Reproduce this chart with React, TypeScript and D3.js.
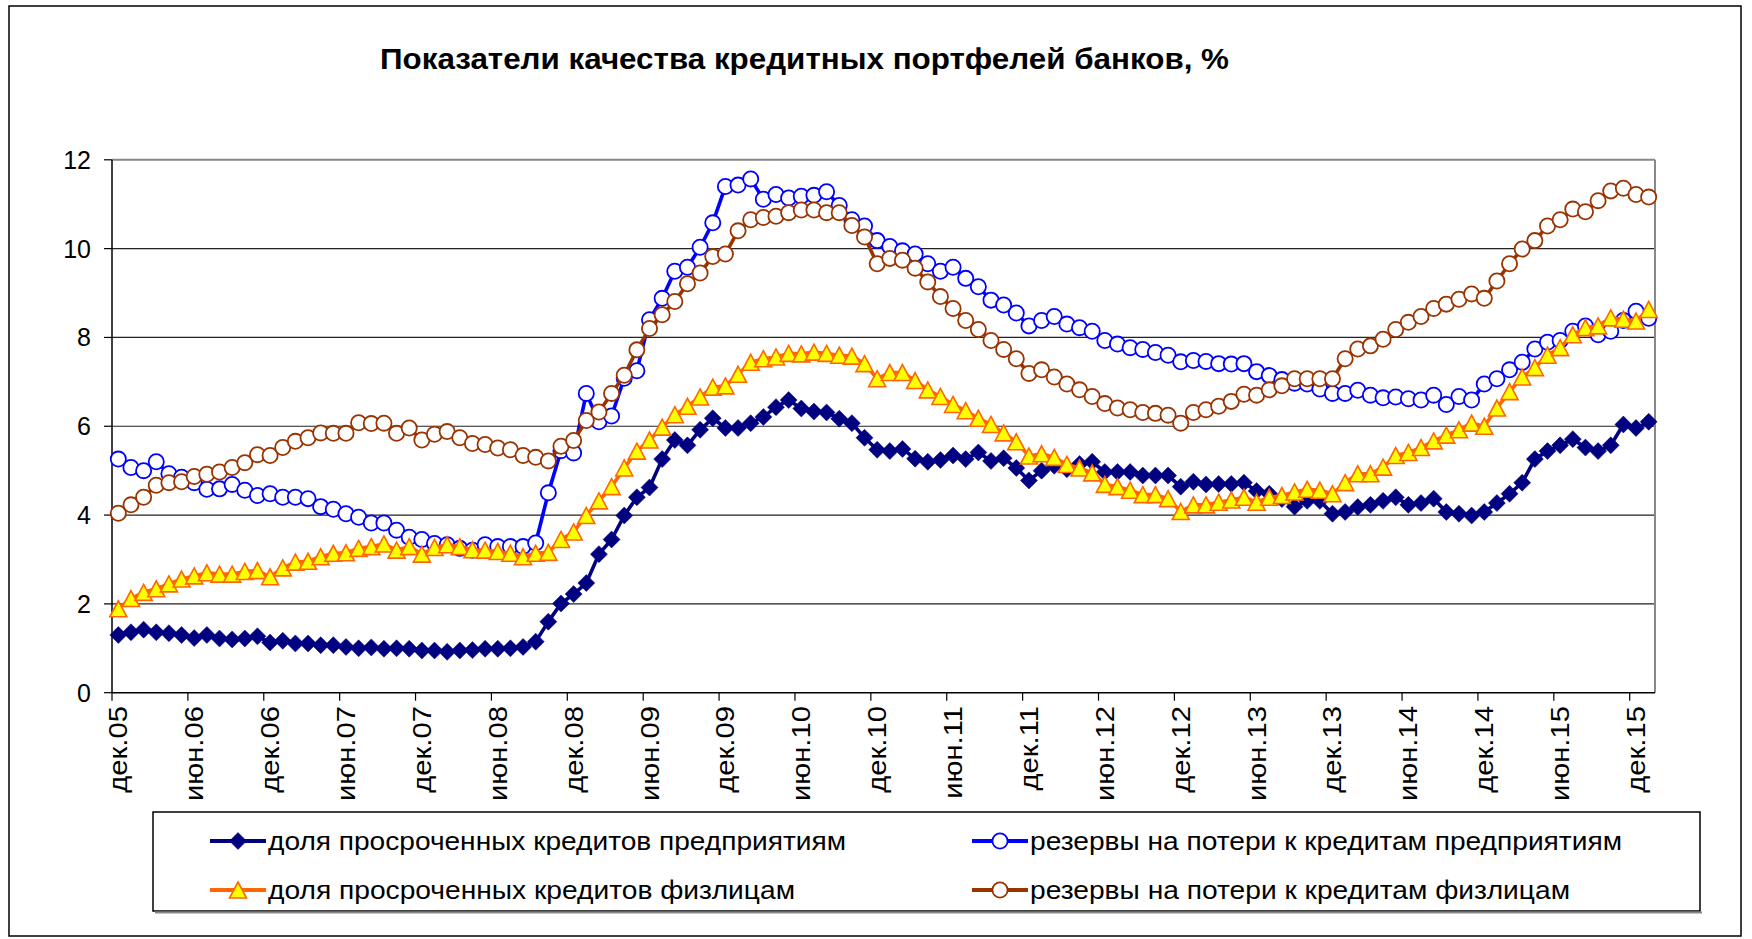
import * as d3 from "d3";

// months used to build category names (dec.05 ... jan.16)
const MONTHS = ["янв", "фев", "мар", "апр", "май", "июн", "июл", "авг", "сен", "окт", "ноя", "дек"];

// доля просроченных кредитов предприятиям
const overdueCorp = [
  1.30, 1.36, 1.42, 1.36, 1.34, 1.30, 1.23, 1.30, 1.22, 1.20, 1.22, 1.27, 1.13, 1.17, 1.11, 1.11, 1.07, 1.07, 1.03, 1.00, 1.02,
  0.99, 1.00, 0.99, 0.95, 0.95, 0.92, 0.95, 0.96, 0.99, 0.99, 1.00, 1.03, 1.15, 1.60, 2.01, 2.22, 2.47, 3.12, 3.45, 3.99, 4.40,
  4.62, 5.26, 5.69, 5.57, 5.92, 6.18, 5.96, 5.96, 6.07, 6.21, 6.43, 6.59, 6.40, 6.33, 6.31, 6.17, 6.07, 5.74, 5.47, 5.44, 5.49, 5.27,
  5.20, 5.24, 5.34, 5.26, 5.41, 5.22, 5.28, 5.06, 4.78, 5.00, 5.11, 5.03, 5.15, 5.20, 4.97, 4.97, 4.97, 4.89, 4.89, 4.89, 4.64,
  4.75, 4.69, 4.70, 4.70, 4.73, 4.54, 4.48, 4.36, 4.19, 4.32, 4.32, 4.03, 4.07, 4.18, 4.23, 4.32, 4.40, 4.23, 4.27, 4.37, 4.07,
  4.03, 3.99, 4.07, 4.27, 4.48, 4.73, 5.26, 5.44, 5.57, 5.71, 5.52, 5.44, 5.57, 6.04, 5.96, 6.10,
];

// резервы на потери к кредитам предприятиям
const reservesCorp = [
  5.26, 5.07, 5.00, 5.20, 4.93, 4.85, 4.73, 4.58, 4.59, 4.69, 4.56, 4.44, 4.48, 4.40, 4.40, 4.37, 4.19, 4.13, 4.03, 3.95, 3.82,
  3.82, 3.66, 3.50, 3.45, 3.36, 3.33, 3.25, 3.21, 3.33, 3.29, 3.29, 3.29, 3.37, 4.50, 5.45, 5.40, 6.74, 6.10, 6.23, 7.08, 7.25,
  8.40, 8.88, 9.49, 9.58, 10.03, 10.58, 11.40, 11.43, 11.57, 11.11, 11.22, 11.14, 11.18, 11.20, 11.28, 10.97, 10.65, 10.51, 10.18, 10.05, 9.95, 9.88,
  9.66, 9.49, 9.58, 9.33, 9.14, 8.84, 8.73, 8.55, 8.26, 8.38, 8.47, 8.30, 8.22, 8.14, 7.93, 7.85, 7.77, 7.73, 7.66, 7.60, 7.45,
  7.48, 7.46, 7.41, 7.40, 7.41, 7.23, 7.14, 7.05, 6.97, 6.95, 6.84, 6.74, 6.74, 6.81, 6.70, 6.64, 6.66, 6.62, 6.59, 6.70, 6.49,
  6.67, 6.59, 6.95, 7.07, 7.27, 7.44, 7.74, 7.89, 7.93, 8.14, 8.26, 8.06, 8.14, 8.38, 8.59, 8.43,
];

// доля просроченных кредитов физлицам
const overdueRetail = [
  1.89, 2.12, 2.26, 2.34, 2.45, 2.56, 2.63, 2.70, 2.67, 2.67, 2.73, 2.75, 2.61, 2.81, 2.94, 2.96, 3.06, 3.14, 3.15, 3.25, 3.29,
  3.35, 3.21, 3.29, 3.12, 3.27, 3.33, 3.29, 3.22, 3.21, 3.18, 3.14, 3.06, 3.14, 3.16, 3.45, 3.62, 3.99, 4.32, 4.64, 5.06, 5.44,
  5.69, 5.98, 6.26, 6.45, 6.66, 6.88, 6.91, 7.17, 7.44, 7.52, 7.56, 7.64, 7.63, 7.67, 7.64, 7.60, 7.58, 7.41, 7.07, 7.21, 7.21, 7.03,
  6.82, 6.67, 6.49, 6.35, 6.18, 6.04, 5.85, 5.65, 5.33, 5.38, 5.30, 5.14, 5.06, 4.95, 4.69, 4.64, 4.56, 4.46, 4.46, 4.37, 4.08,
  4.23, 4.23, 4.29, 4.34, 4.40, 4.29, 4.40, 4.44, 4.52, 4.58, 4.56, 4.48, 4.73, 4.93, 4.93, 5.08, 5.34, 5.41, 5.52, 5.67, 5.80,
  5.92, 6.07, 6.00, 6.41, 6.78, 7.11, 7.32, 7.60, 7.77, 8.06, 8.22, 8.26, 8.44, 8.41, 8.37, 8.63,
];

// резервы на потери к кредитам физлицам
const reservesRetail = [
  4.04, 4.23, 4.40, 4.67, 4.73, 4.75, 4.87, 4.92, 4.97, 5.07, 5.18, 5.36, 5.34, 5.52, 5.66, 5.74, 5.85, 5.84, 5.84, 6.08, 6.06,
  6.07, 5.84, 5.96, 5.69, 5.82, 5.88, 5.74, 5.61, 5.59, 5.51, 5.47, 5.34, 5.30, 5.22, 5.55, 5.68, 6.13, 6.32, 6.74, 7.15, 7.72,
  8.20, 8.51, 8.81, 9.21, 9.45, 9.82, 9.88, 10.40, 10.65, 10.70, 10.73, 10.81, 10.87, 10.87, 10.81, 10.81, 10.52, 10.26, 9.66, 9.78, 9.74, 9.56,
  9.25, 8.92, 8.65, 8.38, 8.18, 7.93, 7.73, 7.52, 7.19, 7.27, 7.11, 6.95, 6.82, 6.67, 6.51, 6.41, 6.37, 6.31, 6.29, 6.25, 6.07,
  6.31, 6.37, 6.45, 6.56, 6.72, 6.70, 6.82, 6.91, 7.07, 7.07, 7.07, 7.07, 7.52, 7.74, 7.81, 7.96, 8.18, 8.34, 8.47, 8.65, 8.75,
  8.86, 8.98, 8.88, 9.27, 9.66, 9.99, 10.18, 10.51, 10.65, 10.89, 10.83, 11.08, 11.30, 11.36, 11.22, 11.16,
];

const seriesNames = [
  "доля просроченных кредитов предприятиям",
  "резервы на потери к кредитам предприятиям",
  "доля просроченных кредитов физлицам",
  "резервы на потери к кредитам физлицам",
];

const yTicks = [0, 2, 4, 6, 8, 10, 12];

const categories = overdueCorp.map((_, k) => {
  const m = (11 + k) % 12;
  const yr = 5 + Math.floor((11 + k) / 12);
  return `${MONTHS[m]}.${String(yr).padStart(2, "0")}`;
});

const W = 1752;
const H = 939;
const FONT = "'Liberation Sans', Arial, sans-serif";
const plot = { left: 112, right: 1655, top: 159.8, bottom: 692.7 };

type Marker = "diamond" | "circle" | "triangle";

const series = [
  { name: seriesNames[0], values: overdueCorp, line: "#000080", marker: "diamond" as Marker, fill: "#000080", stroke: "#000080" },
  { name: seriesNames[1], values: reservesCorp, line: "#0000FF", marker: "circle" as Marker, fill: "#FFFFFF", stroke: "#0000FF" },
  { name: seriesNames[2], values: overdueRetail, line: "#FF6600", marker: "triangle" as Marker, fill: "#FFFF00", stroke: "#FF6600" },
  { name: seriesNames[3], values: reservesRetail, line: "#993300", marker: "circle" as Marker, fill: "#FFFFFF", stroke: "#993300" },
];

function markerPath(kind: Marker, px: number, py: number) {
  if (kind === "diamond") {
    const r = 8.5;
    return `M${px},${py - r}L${px + r},${py}L${px},${py + r}L${px - r},${py}Z`;
  }
  const h = 8;
  return `M${px},${py - h}L${px + 8.5},${py + h}L${px - 8.5},${py + h}Z`;
}

function MarkerShape({ kind, px, py, fill, stroke }: { kind: Marker; px: number; py: number; fill: string; stroke: string }) {
  if (kind === "circle") {
    return <circle cx={px} cy={py} r={7.6} fill={fill} stroke={stroke} strokeWidth={1.8} />;
  }
  return <path d={markerPath(kind, px, py)} fill={fill} stroke={stroke} strokeWidth={kind === "triangle" ? 1.6 : 0.5} />;
}

// legend entries, text width
const legendPos = [
  { x: 210, y: 841, textW: 578 },
  { x: 972, y: 841, textW: 592 },
  { x: 210, y: 890, textW: 527 },
  { x: 972, y: 890, textW: 540 },
];

export default function App() {
  const x = d3.scaleBand<string>().domain(categories).range([plot.left, plot.right]).padding(0);
  const bw = x.bandwidth();
  const cx = (i: number) => (x(categories[i]) as number) + bw / 2;
  const y = d3.scaleLinear().domain([0, 12]).range([plot.bottom, plot.top]);

  const line = d3
    .line<number>()
    .x((_, i) => cx(i))
    .y((d) => y(d));

  const tickIdx = categories.map((_, i) => i).filter((i) => i % 6 === 0);

  return (
    <svg width={W} height={H} style={{ position: "absolute", left: 0, top: 0, background: "#fff" }} fontFamily={FONT}>
      <rect x={0} y={0} width={W} height={H} fill="#fff" />
      {/* chart frame */}
      <rect x={9} y={6} width={1732} height={930} fill="none" stroke="#000" strokeWidth={1.5} />

      <text x={380} y={69} fontSize={29} fontWeight="bold" textLength={849} lengthAdjust="spacingAndGlyphs">
        Показатели качества кредитных портфелей банков, %
      </text>

      {/* gridlines */}
      {yTicks.filter((t) => t > 0 && t < 12).map((t) => (
        <line key={t} x1={plot.left} x2={plot.right} y1={y(t)} y2={y(t)} stroke="#222" strokeWidth={1.2} />
      ))}
      {/* plot border */}
      <line x1={plot.left} x2={plot.right} y1={plot.top} y2={plot.top} stroke="#888" strokeWidth={2} />
      <line x1={plot.right} x2={plot.right} y1={plot.top} y2={plot.bottom} stroke="#888" strokeWidth={2} />

      {/* y axis */}
      <line x1={plot.left} x2={plot.left} y1={plot.top} y2={plot.bottom} stroke="#000" strokeWidth={1.5} />
      {yTicks.map((t) => (
        <g key={t}>
          <line x1={plot.left - 8} x2={plot.left} y1={y(t)} y2={y(t)} stroke="#000" strokeWidth={1.2} />
          <text x={91} y={y(t)} dy="0.36em" textAnchor="end" fontSize={25}>
            {t}
          </text>
        </g>
      ))}

      {/* x axis */}
      <line x1={plot.left} x2={plot.right} y1={plot.bottom} y2={plot.bottom} stroke="#000" strokeWidth={1.5} />
      {tickIdx.map((i) => (
        <g key={i}>
          <line x1={x(categories[i])} x2={x(categories[i])} y1={plot.bottom} y2={plot.bottom + 8} stroke="#000" strokeWidth={1.2} />
          <text
            transform={`translate(${cx(i)},706) rotate(-90) scale(1.17,1)`}
            dy="0.36em"
            textAnchor="end"
            fontSize={25}
          >
            {categories[i]}
          </text>
        </g>
      ))}

      {/* series */}
      {series.map((s) => (
        <g key={s.name}>
          <path d={line(s.values)!} fill="none" stroke={s.line} strokeWidth={3.6} strokeLinejoin="round" />
          {s.values.map((v, i) => (
            <MarkerShape key={i} kind={s.marker} px={cx(i)} py={y(v)} fill={s.fill} stroke={s.stroke} />
          ))}
        </g>
      ))}

      {/* legend */}
      <rect x={153} y={812} width={1547} height={99} fill="#fff" stroke="#000" strokeWidth={1.5} />
      <line x1={155} x2={1702} y1={912.5} y2={912.5} stroke="#888" strokeWidth={2} />
      {series.map((s, k) => {
        const p = legendPos[k];
        return (
          <g key={s.name}>
            <line x1={p.x} x2={p.x + 56} y1={p.y} y2={p.y} stroke={s.line} strokeWidth={4} />
            <MarkerShape kind={s.marker} px={p.x + 28} py={p.y} fill={s.fill} stroke={s.stroke} />
            <text x={p.x + 58} y={p.y} dy="0.36em" fontSize={26} textLength={p.textW} lengthAdjust="spacingAndGlyphs">
              {s.name}
            </text>
          </g>
        );
      })}
    </svg>
  );
}
